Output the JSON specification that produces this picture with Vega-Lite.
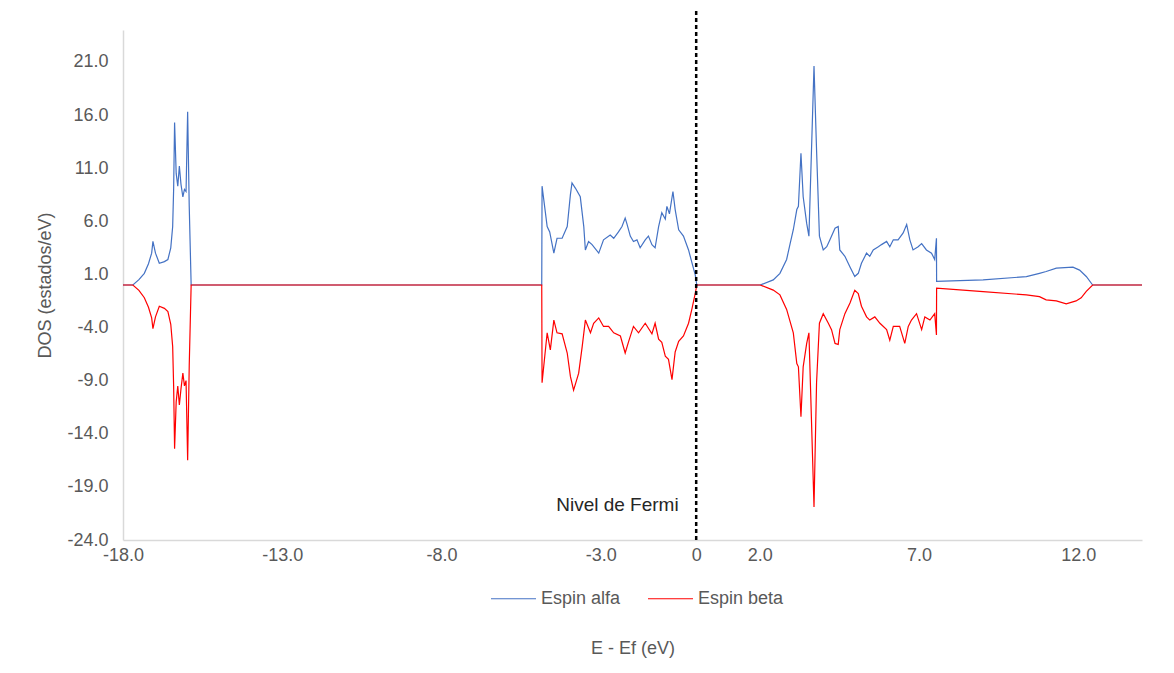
{
  "$schema": "https://vega.github.io/schema/vega-lite/v6.json",
  "width": 1019,
  "height": 510,
  "autosize": {"type": "none"},
  "padding": {"left": 123, "top": 30, "right": 32, "bottom": 133},
  "background": "white",
  "config": {"view": {"stroke": null}, "font": "Liberation Sans"},
  "datasets": {
    "dos": [
      {"E": -18, "DOS": 0, "serie": "Espin alfa"},
      {"E": -17.69, "DOS": 0, "serie": "Espin alfa"},
      {"E": -17.5, "DOS": 0.5, "serie": "Espin alfa"},
      {"E": -17.33, "DOS": 1.1, "serie": "Espin alfa"},
      {"E": -17.2, "DOS": 2.0, "serie": "Espin alfa"},
      {"E": -17.1, "DOS": 3.0, "serie": "Espin alfa"},
      {"E": -17.06, "DOS": 4.1, "serie": "Espin alfa"},
      {"E": -16.98, "DOS": 3.0, "serie": "Espin alfa"},
      {"E": -16.86, "DOS": 2.05, "serie": "Espin alfa"},
      {"E": -16.7, "DOS": 2.2, "serie": "Espin alfa"},
      {"E": -16.59, "DOS": 2.4, "serie": "Espin alfa"},
      {"E": -16.5, "DOS": 3.5, "serie": "Espin alfa"},
      {"E": -16.44, "DOS": 5.5, "serie": "Espin alfa"},
      {"E": -16.41, "DOS": 9.0, "serie": "Espin alfa"},
      {"E": -16.38, "DOS": 15.3, "serie": "Espin alfa"},
      {"E": -16.33, "DOS": 10.5, "serie": "Espin alfa"},
      {"E": -16.28, "DOS": 9.3, "serie": "Espin alfa"},
      {"E": -16.23, "DOS": 11.2, "serie": "Espin alfa"},
      {"E": -16.18, "DOS": 9.5, "serie": "Espin alfa"},
      {"E": -16.12, "DOS": 8.3, "serie": "Espin alfa"},
      {"E": -16.07, "DOS": 9.0, "serie": "Espin alfa"},
      {"E": -16.02, "DOS": 8.8, "serie": "Espin alfa"},
      {"E": -15.97, "DOS": 16.3, "serie": "Espin alfa"},
      {"E": -15.92, "DOS": 7.4, "serie": "Espin alfa"},
      {"E": -15.86, "DOS": 0, "serie": "Espin alfa"},
      {"E": -4.85, "DOS": 0, "serie": "Espin alfa"},
      {"E": -4.84, "DOS": 9.3, "serie": "Espin alfa"},
      {"E": -4.68, "DOS": 5.5, "serie": "Espin alfa"},
      {"E": -4.6, "DOS": 5.0, "serie": "Espin alfa"},
      {"E": -4.47, "DOS": 3.0, "serie": "Espin alfa"},
      {"E": -4.37, "DOS": 4.4, "serie": "Espin alfa"},
      {"E": -4.21, "DOS": 4.4, "serie": "Espin alfa"},
      {"E": -4.05, "DOS": 5.5, "serie": "Espin alfa"},
      {"E": -3.95, "DOS": 8.5, "serie": "Espin alfa"},
      {"E": -3.9, "DOS": 9.6, "serie": "Espin alfa"},
      {"E": -3.79, "DOS": 9.1, "serie": "Espin alfa"},
      {"E": -3.64, "DOS": 8.3, "serie": "Espin alfa"},
      {"E": -3.53, "DOS": 5.5, "serie": "Espin alfa"},
      {"E": -3.48, "DOS": 3.3, "serie": "Espin alfa"},
      {"E": -3.38, "DOS": 4.1, "serie": "Espin alfa"},
      {"E": -3.27, "DOS": 3.8, "serie": "Espin alfa"},
      {"E": -3.06, "DOS": 3.0, "serie": "Espin alfa"},
      {"E": -2.91, "DOS": 4.25, "serie": "Espin alfa"},
      {"E": -2.7, "DOS": 4.7, "serie": "Espin alfa"},
      {"E": -2.59, "DOS": 4.4, "serie": "Espin alfa"},
      {"E": -2.44, "DOS": 5.0, "serie": "Espin alfa"},
      {"E": -2.33, "DOS": 5.5, "serie": "Espin alfa"},
      {"E": -2.23, "DOS": 6.3, "serie": "Espin alfa"},
      {"E": -2.17, "DOS": 5.7, "serie": "Espin alfa"},
      {"E": -2.07, "DOS": 4.6, "serie": "Espin alfa"},
      {"E": -1.97, "DOS": 4.1, "serie": "Espin alfa"},
      {"E": -1.86, "DOS": 4.25, "serie": "Espin alfa"},
      {"E": -1.76, "DOS": 3.5, "serie": "Espin alfa"},
      {"E": -1.6, "DOS": 4.25, "serie": "Espin alfa"},
      {"E": -1.5, "DOS": 4.6, "serie": "Espin alfa"},
      {"E": -1.39, "DOS": 3.8, "serie": "Espin alfa"},
      {"E": -1.29, "DOS": 3.5, "serie": "Espin alfa"},
      {"E": -1.18, "DOS": 5.5, "serie": "Espin alfa"},
      {"E": -1.08, "DOS": 6.8, "serie": "Espin alfa"},
      {"E": -0.97, "DOS": 6.2, "serie": "Espin alfa"},
      {"E": -0.92, "DOS": 7.4, "serie": "Espin alfa"},
      {"E": -0.84, "DOS": 6.7, "serie": "Espin alfa"},
      {"E": -0.73, "DOS": 8.8, "serie": "Espin alfa"},
      {"E": -0.66, "DOS": 7.1, "serie": "Espin alfa"},
      {"E": -0.55, "DOS": 5.2, "serie": "Espin alfa"},
      {"E": -0.4, "DOS": 4.6, "serie": "Espin alfa"},
      {"E": -0.24, "DOS": 3.3, "serie": "Espin alfa"},
      {"E": -0.13, "DOS": 2.05, "serie": "Espin alfa"},
      {"E": -0.03, "DOS": 0.95, "serie": "Espin alfa"},
      {"E": 0.02, "DOS": 0, "serie": "Espin alfa"},
      {"E": 2.01, "DOS": 0, "serie": "Espin alfa"},
      {"E": 2.42, "DOS": 0.48, "serie": "Espin alfa"},
      {"E": 2.63, "DOS": 1.1, "serie": "Espin alfa"},
      {"E": 2.84, "DOS": 2.4, "serie": "Espin alfa"},
      {"E": 2.95, "DOS": 3.9, "serie": "Espin alfa"},
      {"E": 3.05, "DOS": 5.2, "serie": "Espin alfa"},
      {"E": 3.16, "DOS": 7.1, "serie": "Espin alfa"},
      {"E": 3.21, "DOS": 7.4, "serie": "Espin alfa"},
      {"E": 3.29, "DOS": 12.4, "serie": "Espin alfa"},
      {"E": 3.36, "DOS": 8.3, "serie": "Espin alfa"},
      {"E": 3.47, "DOS": 5.8, "serie": "Espin alfa"},
      {"E": 3.54, "DOS": 4.6, "serie": "Espin alfa"},
      {"E": 3.7, "DOS": 20.6, "serie": "Espin alfa"},
      {"E": 3.78, "DOS": 12.7, "serie": "Espin alfa"},
      {"E": 3.87, "DOS": 4.6, "serie": "Espin alfa"},
      {"E": 3.99, "DOS": 3.3, "serie": "Espin alfa"},
      {"E": 4.1, "DOS": 3.6, "serie": "Espin alfa"},
      {"E": 4.2, "DOS": 4.25, "serie": "Espin alfa"},
      {"E": 4.36, "DOS": 5.35, "serie": "Espin alfa"},
      {"E": 4.46, "DOS": 5.5, "serie": "Espin alfa"},
      {"E": 4.51, "DOS": 3.3, "serie": "Espin alfa"},
      {"E": 4.67, "DOS": 2.7, "serie": "Espin alfa"},
      {"E": 4.83, "DOS": 1.7, "serie": "Espin alfa"},
      {"E": 4.98, "DOS": 0.8, "serie": "Espin alfa"},
      {"E": 5.09, "DOS": 1.1, "serie": "Espin alfa"},
      {"E": 5.19, "DOS": 2.05, "serie": "Espin alfa"},
      {"E": 5.35, "DOS": 3.0, "serie": "Espin alfa"},
      {"E": 5.45, "DOS": 2.7, "serie": "Espin alfa"},
      {"E": 5.56, "DOS": 3.3, "serie": "Espin alfa"},
      {"E": 5.72, "DOS": 3.6, "serie": "Espin alfa"},
      {"E": 5.82, "DOS": 3.8, "serie": "Espin alfa"},
      {"E": 5.98, "DOS": 4.1, "serie": "Espin alfa"},
      {"E": 6.08, "DOS": 3.6, "serie": "Espin alfa"},
      {"E": 6.19, "DOS": 4.25, "serie": "Espin alfa"},
      {"E": 6.34, "DOS": 4.25, "serie": "Espin alfa"},
      {"E": 6.5, "DOS": 4.9, "serie": "Espin alfa"},
      {"E": 6.61, "DOS": 5.7, "serie": "Espin alfa"},
      {"E": 6.71, "DOS": 4.25, "serie": "Espin alfa"},
      {"E": 6.81, "DOS": 3.3, "serie": "Espin alfa"},
      {"E": 6.97, "DOS": 3.6, "serie": "Espin alfa"},
      {"E": 7.08, "DOS": 3.9, "serie": "Espin alfa"},
      {"E": 7.23, "DOS": 3.3, "serie": "Espin alfa"},
      {"E": 7.39, "DOS": 3.0, "serie": "Espin alfa"},
      {"E": 7.49, "DOS": 2.4, "serie": "Espin alfa"},
      {"E": 7.545, "DOS": 4.4, "serie": "Espin alfa"},
      {"E": 7.55, "DOS": 0.35, "serie": "Espin alfa"},
      {"E": 9.01, "DOS": 0.48, "serie": "Espin alfa"},
      {"E": 10.37, "DOS": 0.79, "serie": "Espin alfa"},
      {"E": 10.78, "DOS": 1.1, "serie": "Espin alfa"},
      {"E": 10.99, "DOS": 1.27, "serie": "Espin alfa"},
      {"E": 11.31, "DOS": 1.58, "serie": "Espin alfa"},
      {"E": 11.83, "DOS": 1.68, "serie": "Espin alfa"},
      {"E": 12.04, "DOS": 1.4, "serie": "Espin alfa"},
      {"E": 12.25, "DOS": 0.8, "serie": "Espin alfa"},
      {"E": 12.45, "DOS": 0, "serie": "Espin alfa"},
      {"E": 14, "DOS": 0, "serie": "Espin alfa"},

      {"E": -18, "DOS": 0, "serie": "Espin beta"},
      {"E": -17.69, "DOS": 0, "serie": "Espin beta"},
      {"E": -17.5, "DOS": -0.5, "serie": "Espin beta"},
      {"E": -17.33, "DOS": -1.2, "serie": "Espin beta"},
      {"E": -17.2, "DOS": -2.1, "serie": "Espin beta"},
      {"E": -17.1, "DOS": -3.1, "serie": "Espin beta"},
      {"E": -17.06, "DOS": -4.1, "serie": "Espin beta"},
      {"E": -16.98, "DOS": -3.0, "serie": "Espin beta"},
      {"E": -16.86, "DOS": -2.0, "serie": "Espin beta"},
      {"E": -16.7, "DOS": -2.2, "serie": "Espin beta"},
      {"E": -16.59, "DOS": -2.5, "serie": "Espin beta"},
      {"E": -16.5, "DOS": -3.7, "serie": "Espin beta"},
      {"E": -16.44, "DOS": -5.8, "serie": "Espin beta"},
      {"E": -16.41, "DOS": -9.5, "serie": "Espin beta"},
      {"E": -16.38, "DOS": -15.4, "serie": "Espin beta"},
      {"E": -16.33, "DOS": -11.0, "serie": "Espin beta"},
      {"E": -16.28, "DOS": -9.5, "serie": "Espin beta"},
      {"E": -16.23, "DOS": -11.3, "serie": "Espin beta"},
      {"E": -16.18, "DOS": -9.8, "serie": "Espin beta"},
      {"E": -16.12, "DOS": -8.3, "serie": "Espin beta"},
      {"E": -16.07, "DOS": -9.5, "serie": "Espin beta"},
      {"E": -16.02, "DOS": -9.0, "serie": "Espin beta"},
      {"E": -15.97, "DOS": -16.5, "serie": "Espin beta"},
      {"E": -15.92, "DOS": -7.6, "serie": "Espin beta"},
      {"E": -15.86, "DOS": 0, "serie": "Espin beta"},
      {"E": -4.85, "DOS": 0, "serie": "Espin beta"},
      {"E": -4.84, "DOS": -9.2, "serie": "Espin beta"},
      {"E": -4.68, "DOS": -4.5, "serie": "Espin beta"},
      {"E": -4.58, "DOS": -6.1, "serie": "Espin beta"},
      {"E": -4.47, "DOS": -3.3, "serie": "Espin beta"},
      {"E": -4.37, "DOS": -4.5, "serie": "Espin beta"},
      {"E": -4.21, "DOS": -4.6, "serie": "Espin beta"},
      {"E": -4.05, "DOS": -6.4, "serie": "Espin beta"},
      {"E": -3.95, "DOS": -8.6, "serie": "Espin beta"},
      {"E": -3.85, "DOS": -9.9, "serie": "Espin beta"},
      {"E": -3.69, "DOS": -8.3, "serie": "Espin beta"},
      {"E": -3.58, "DOS": -5.8, "serie": "Espin beta"},
      {"E": -3.48, "DOS": -3.3, "serie": "Espin beta"},
      {"E": -3.32, "DOS": -4.5, "serie": "Espin beta"},
      {"E": -3.22, "DOS": -3.6, "serie": "Espin beta"},
      {"E": -3.06, "DOS": -3.1, "serie": "Espin beta"},
      {"E": -2.91, "DOS": -3.9, "serie": "Espin beta"},
      {"E": -2.75, "DOS": -3.9, "serie": "Espin beta"},
      {"E": -2.59, "DOS": -4.5, "serie": "Espin beta"},
      {"E": -2.38, "DOS": -4.8, "serie": "Espin beta"},
      {"E": -2.23, "DOS": -6.4, "serie": "Espin beta"},
      {"E": -2.12, "DOS": -5.3, "serie": "Espin beta"},
      {"E": -1.97, "DOS": -3.9, "serie": "Espin beta"},
      {"E": -1.81, "DOS": -4.5, "serie": "Espin beta"},
      {"E": -1.6, "DOS": -3.6, "serie": "Espin beta"},
      {"E": -1.39, "DOS": -4.6, "serie": "Espin beta"},
      {"E": -1.29, "DOS": -3.6, "serie": "Espin beta"},
      {"E": -1.18, "DOS": -5.1, "serie": "Espin beta"},
      {"E": -1.08, "DOS": -5.4, "serie": "Espin beta"},
      {"E": -0.97, "DOS": -6.7, "serie": "Espin beta"},
      {"E": -0.87, "DOS": -7.0, "serie": "Espin beta"},
      {"E": -0.76, "DOS": -8.9, "serie": "Espin beta"},
      {"E": -0.66, "DOS": -6.3, "serie": "Espin beta"},
      {"E": -0.55, "DOS": -5.3, "serie": "Espin beta"},
      {"E": -0.4, "DOS": -4.8, "serie": "Espin beta"},
      {"E": -0.24, "DOS": -3.6, "serie": "Espin beta"},
      {"E": -0.13, "DOS": -2.2, "serie": "Espin beta"},
      {"E": -0.03, "DOS": -0.8, "serie": "Espin beta"},
      {"E": 0.02, "DOS": 0, "serie": "Espin beta"},
      {"E": 2.01, "DOS": 0, "serie": "Espin beta"},
      {"E": 2.42, "DOS": -0.48, "serie": "Espin beta"},
      {"E": 2.63, "DOS": -0.93, "serie": "Espin beta"},
      {"E": 2.84, "DOS": -2.3, "serie": "Espin beta"},
      {"E": 3.05, "DOS": -4.5, "serie": "Espin beta"},
      {"E": 3.16, "DOS": -7.4, "serie": "Espin beta"},
      {"E": 3.21, "DOS": -7.7, "serie": "Espin beta"},
      {"E": 3.29, "DOS": -12.4, "serie": "Espin beta"},
      {"E": 3.36, "DOS": -7.7, "serie": "Espin beta"},
      {"E": 3.47, "DOS": -5.5, "serie": "Espin beta"},
      {"E": 3.54, "DOS": -4.5, "serie": "Espin beta"},
      {"E": 3.7, "DOS": -20.9, "serie": "Espin beta"},
      {"E": 3.78, "DOS": -9.2, "serie": "Espin beta"},
      {"E": 3.87, "DOS": -3.6, "serie": "Espin beta"},
      {"E": 3.99, "DOS": -2.7, "serie": "Espin beta"},
      {"E": 4.15, "DOS": -3.6, "serie": "Espin beta"},
      {"E": 4.25, "DOS": -4.2, "serie": "Espin beta"},
      {"E": 4.36, "DOS": -5.5, "serie": "Espin beta"},
      {"E": 4.46, "DOS": -5.6, "serie": "Espin beta"},
      {"E": 4.51, "DOS": -4.2, "serie": "Espin beta"},
      {"E": 4.67, "DOS": -2.7, "serie": "Espin beta"},
      {"E": 4.83, "DOS": -1.7, "serie": "Espin beta"},
      {"E": 4.98, "DOS": -0.5, "serie": "Espin beta"},
      {"E": 5.09, "DOS": -0.8, "serie": "Espin beta"},
      {"E": 5.19, "DOS": -2.0, "serie": "Espin beta"},
      {"E": 5.35, "DOS": -3.0, "serie": "Espin beta"},
      {"E": 5.45, "DOS": -3.3, "serie": "Espin beta"},
      {"E": 5.61, "DOS": -3.0, "serie": "Espin beta"},
      {"E": 5.77, "DOS": -3.6, "serie": "Espin beta"},
      {"E": 5.98, "DOS": -4.2, "serie": "Espin beta"},
      {"E": 6.08, "DOS": -5.2, "serie": "Espin beta"},
      {"E": 6.19, "DOS": -3.9, "serie": "Espin beta"},
      {"E": 6.39, "DOS": -3.9, "serie": "Espin beta"},
      {"E": 6.55, "DOS": -5.5, "serie": "Espin beta"},
      {"E": 6.66, "DOS": -3.9, "serie": "Espin beta"},
      {"E": 6.76, "DOS": -3.3, "serie": "Espin beta"},
      {"E": 6.92, "DOS": -2.7, "serie": "Espin beta"},
      {"E": 7.08, "DOS": -4.2, "serie": "Espin beta"},
      {"E": 7.18, "DOS": -3.0, "serie": "Espin beta"},
      {"E": 7.34, "DOS": -3.3, "serie": "Espin beta"},
      {"E": 7.49, "DOS": -2.7, "serie": "Espin beta"},
      {"E": 7.545, "DOS": -4.7, "serie": "Espin beta"},
      {"E": 7.55, "DOS": -0.3, "serie": "Espin beta"},
      {"E": 9.01, "DOS": -0.62, "serie": "Espin beta"},
      {"E": 10.37, "DOS": -0.93, "serie": "Espin beta"},
      {"E": 10.78, "DOS": -1.1, "serie": "Espin beta"},
      {"E": 10.99, "DOS": -1.4, "serie": "Espin beta"},
      {"E": 11.31, "DOS": -1.5, "serie": "Espin beta"},
      {"E": 11.62, "DOS": -1.78, "serie": "Espin beta"},
      {"E": 11.93, "DOS": -1.5, "serie": "Espin beta"},
      {"E": 12.09, "DOS": -1.2, "serie": "Espin beta"},
      {"E": 12.25, "DOS": -0.6, "serie": "Espin beta"},
      {"E": 12.45, "DOS": 0, "serie": "Espin beta"},
      {"E": 14, "DOS": 0, "serie": "Espin beta"}
    ]
  },
  "layer": [
    {
      "data": {"name": "dos"},
      "mark": {"type": "line", "strokeWidth": 1.2},
      "encoding": {
        "x": {
          "field": "E", "type": "quantitative",
          "scale": {"domain": [-18, 14], "nice": false, "zero": false},
          "axis": {
            "values": [-18, -13, -8, -3, 0, 2, 7, 12],
            "labelExpr": "datum.value == 0 ? '0' : replace(format(datum.value, '.1f'), '\u2212', '-')",
            "grid": false, "ticks": false, "tickSize": 0,
            "domainColor": "#d9d9d9", "domainWidth": 1.5,
            "labelColor": "#595959", "labelFontSize": 18, "labelPadding": 6,
            "labelFlush": false, "labelOverlap": false,
            "title": "E - Ef (eV)", "titleFontSize": 18, "titleFontWeight": "normal",
            "titleColor": "#595959", "titlePadding": 75
          }
        },
        "y": {
          "field": "DOS", "type": "quantitative",
          "scale": {"domain": [-24, 24], "nice": false, "zero": false},
          "axis": {
            "values": [-24, -19, -14, -9, -4, 1, 6, 11, 16, 21],
            "labelExpr": "replace(format(datum.value, '.1f'), '\u2212', '-')",
            "grid": false, "ticks": false, "tickSize": 0,
            "domainColor": "#d9d9d9", "domainWidth": 1.5,
            "labelColor": "#595959", "labelFontSize": 18, "labelPadding": 15,
            "labelFlush": false, "labelOverlap": false,
            "title": "DOS (estados/eV)", "titleFontSize": 18, "titleFontWeight": "normal",
            "titleColor": "#595959", "titlePadding": 12
          }
        },
        "color": {
          "field": "serie", "type": "nominal",
          "scale": {"domain": ["Espin alfa", "Espin beta"], "range": ["#4472C4", "#FF0000"]},
          "legend": {
            "title": null, "orient": "none", "direction": "horizontal",
            "legendX": 367, "legendY": 545,
            "symbolType": "stroke", "symbolSize": 2025, "symbolStrokeWidth": 1.2,
            "labelFontSize": 18, "labelColor": "#595959", "labelOffset": 4,
            "columnPadding": 24, "padding": 0
          }
        }
      }
    },
    {
      "data": {"values": [{"E": 0, "y": -24, "y2": 26}]},
      "mark": {"type": "rule", "color": "#000000", "strokeWidth": 2.5, "strokeDash": [4, 3]},
      "encoding": {
        "x": {"field": "E", "type": "quantitative"},
        "y": {"field": "y", "type": "quantitative"},
        "y2": {"field": "y2"}
      }
    },
    {
      "data": {"values": [{"E": -0.55, "y": -20.7, "label": "Nivel de Fermi"}]},
      "mark": {"type": "text", "align": "right", "baseline": "middle", "fontSize": 19, "color": "#262626"},
      "encoding": {
        "x": {"field": "E", "type": "quantitative"},
        "y": {"field": "y", "type": "quantitative"},
        "text": {"field": "label"}
      }
    }
  ]
}
